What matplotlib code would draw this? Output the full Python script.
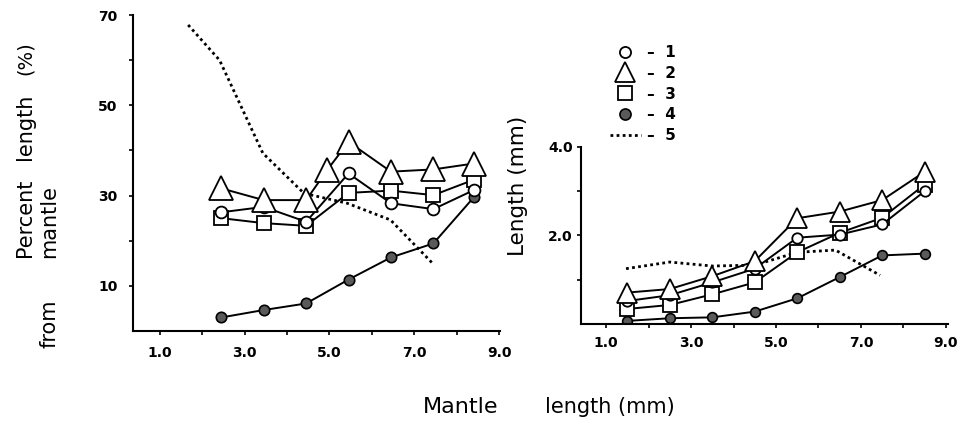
import matplotlib
matplotlib.use("Agg")
import matplotlib.pyplot as plt
from matplotlib.lines import Line2D

# Data
x_left = [2.45, 3.45, 4.45, 5.45, 6.45, 7.45, 8.4]
x_left_tri = [2.45, 3.45, 4.45, 4.95, 5.45, 6.45, 7.45, 8.4]
left_1 = [26.3, 27.5, 24.2, 34.9, 28.3, 27.0, 31.2]
left_2 = [31.6, 29.0, 29.0, 35.7, 41.9, 35.3, 35.8, 37.1]
left_3 = [25.0, 23.9, 23.3, 30.6, 31.1, 30.1, 33.5]
left_4 = [3.0, 4.65, 6.1, 11.4, 16.3, 19.4, 29.6]
x_left_5 = [1.67, 2.41, 3.43, 4.4, 5.42, 6.44, 7.43]
left_5 = [67.8, 60.0, 39.4, 30.5, 28.3, 24.6, 15.0]

x_right = [1.5, 2.5, 3.5, 4.5, 5.5, 6.5, 7.5, 8.5]
right_1 = [0.52, 0.65, 0.94, 1.25, 1.95, 2.02, 2.25, 3.0]
right_2 = [0.71, 0.79, 1.08, 1.42, 2.39, 2.54, 2.80, 3.44]
right_3 = [0.34, 0.43, 0.67, 0.94, 1.62, 2.06, 2.40, 3.15]
right_4 = [0.07, 0.13, 0.15, 0.28, 0.58, 1.06, 1.55, 1.59]
x_right_5 = [1.47, 2.5, 3.5, 4.5, 5.5, 6.4, 7.45]
right_5 = [1.25, 1.40, 1.31, 1.33, 1.62, 1.67, 1.10]

x_major = [1, 3, 5, 7, 9]
x_minor = [2, 4, 6, 8]
legend_labels = ['–  1', '–  2', '–  3', '–  4', '–  5']

plt.rcParams['font.family'] = 'DejaVu Sans'

fig = plt.figure(figsize=(9.61, 4.28), dpi=100)
ax1 = fig.add_axes([0.1384, 0.2266, 0.3819, 0.7383])
ax2 = fig.add_axes([0.6046, 0.243, 0.3819, 0.4136])

dot_style = dict(color='black', linestyle=(0, (1, 1.2)), linewidth=2, zorder=1)


def draw(ax, x, y1, xt, y2, y3, y4, x5, y5, big):
    ax.plot(x5, y5, **dot_style)
    ax.plot(x, y4, color='black', lw=1.4, marker='o', ms=big[3],
            mfc='#5a5a5a', mec='black', mew=1.2, zorder=2)
    ax.plot(x, y3, color='black', lw=1.4, marker='s', ms=big[2],
            mfc='white', mec='black', mew=1.3, zorder=3)
    ax.plot(x, y1, color='black', lw=1.4, marker='o', ms=big[0],
            mfc='white', mec='black', mew=1.3, zorder=4)
    ax.plot(xt, y2, color='black', lw=1.4, marker='^', ms=big[1],
            mfc='white', mec='black', mew=1.3, zorder=5)


draw(ax1, x_left, left_1, x_left_tri, left_2, left_3, left_4,
     x_left_5, left_5, (8.5, 17, 10, 7.5))
draw(ax2, x_right, right_1, x_right, right_2, right_3, right_4,
     x_right_5, right_5, (7.5, 15, 9.5, 7))

for ax in (ax1, ax2):
    for s in ('top', 'right'):
        ax.spines[s].set_visible(False)
    for s in ('left', 'bottom'):
        ax.spines[s].set_linewidth(1.5)
    ax.set_xticks(x_major)
    ax.set_xticks(x_minor, minor=True)
    ax.set_xticklabels(['%.1f' % v for v in x_major])
    ax.tick_params(which='both', direction='out', length=3, width=1.2)
    for lab in ax.get_xticklabels() + ax.get_yticklabels():
        lab.set_fontweight('bold')
        lab.set_fontsize(10)

ax1.set_xlim(0.37, 9.02)
ax1.set_ylim(0, 70)
ax1.set_yticks([10, 30, 50, 70])
ax1.set_yticks([20, 40, 60], minor=True)
ax1.set_yticklabels(['10', '30', '50', '70'], fontweight='bold', fontsize=10)
ax1.tick_params(axis='x', pad=8)
ax1.tick_params(axis='y', pad=8)

ax2.set_xlim(0.41, 9.05)
ax2.set_ylim(0, 4.0)
ax2.set_yticks([2.0, 4.0])
ax2.set_yticks([1.0, 3.0], minor=True)
ax2.set_yticklabels(['2.0', '4.0'], fontweight='bold', fontsize=10)
ax2.tick_params(axis='x', pad=6)
ax2.tick_params(axis='y', pad=3)

# axis titles
fig.text(25 / 961, 1 - 218 / 428, 'Percent', rotation=90, ha='center', va='center', fontsize=15)
fig.text(25 / 961, 1 - 127 / 428, 'length', rotation=90, ha='center', va='center', fontsize=15)
fig.text(25 / 961, 1 - 58 / 428, '(%)', rotation=90, ha='center', va='center', fontsize=14)
fig.text(49 / 961, 1 - 324 / 428, 'from', rotation=90, ha='center', va='center', fontsize=15)
fig.text(49 / 961, 1 - 222 / 428, 'mantle', rotation=90, ha='center', va='center', fontsize=15)
fig.text(518 / 961, 1 - 186 / 428, 'Length (mm)', rotation=90, ha='center', va='center', fontsize=15.5)
fig.text(461 / 961, 1 - 407 / 428, 'Mantle', ha='center', va='center', fontsize=16)
fig.text(545 / 961, 1 - 407 / 428, 'length (mm)', ha='left', va='center', fontsize=15)

handles = [
    Line2D([], [], ls='none', marker='o', ms=8, mfc='white', mec='black', mew=1.3),
    Line2D([], [], ls='none', marker='^', ms=15, mfc='white', mec='black', mew=1.3),
    Line2D([], [], ls='none', marker='s', ms=10, mfc='white', mec='black', mew=1.3),
    Line2D([], [], ls='none', marker='o', ms=8, mfc='#5a5a5a', mec='black', mew=1.2),
    Line2D([], [], **dot_style),
]
leg = fig.legend(handles, legend_labels, loc='upper left',
                 bbox_to_anchor=(610 / 961, 1 - 45 / 428), frameon=False,
                 handlelength=2.0, handletextpad=0.4, labelspacing=0.38,
                 borderpad=0, borderaxespad=0,
                 prop={'weight': 'bold', 'size': 11})

fig.savefig('out.png', dpi=100)
